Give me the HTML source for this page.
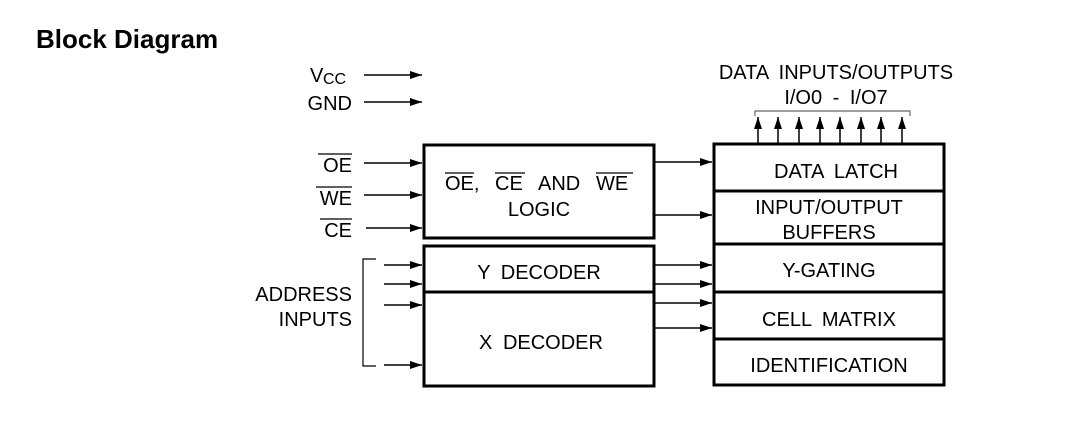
<!DOCTYPE html>
<html><head><style>
body{margin:0;background:#fff;}
svg text{font-family:"Liberation Sans",Arial,sans-serif;fill:#000;word-spacing:5px;}
</style></head><body>
<svg width="1086" height="426" viewBox="0 0 1086 426" xmlns="http://www.w3.org/2000/svg">
<defs><marker id="a" viewBox="0 0 12 8" refX="12" refY="4" markerWidth="12" markerHeight="8" markerUnits="userSpaceOnUse" orient="auto"><path d="M0,0L12,4L0,8z" fill="#000"/></marker></defs>
<text x="36" y="48" font-size="26" font-weight="bold" style="word-spacing:0">Block Diagram</text>
<text x="310" y="82" font-size="20">V</text><text x="323" y="84" font-size="16" style="letter-spacing:0">CC</text>
<g font-size="20" text-anchor="end">
<text x="352" y="110">GND</text>
<text x="352" y="172">OE</text>
<text x="352" y="205">WE</text>
<text x="352" y="237">CE</text>
<text x="352" y="301">ADDRESS</text>
<text x="352" y="326">INPUTS</text>
</g>
<g stroke="#000" stroke-width="1.3">
<line x1="318" y1="154" x2="352" y2="154"/>
<line x1="316" y1="187" x2="352" y2="187"/>
<line x1="320" y1="219" x2="352" y2="219"/>
</g>
<g stroke="#000" stroke-width="1.5" fill="none" marker-end="url(#a)">
<line x1="364" y1="75" x2="422" y2="75"/>
<line x1="364" y1="102" x2="422" y2="102"/>
<line x1="364" y1="163" x2="422" y2="163"/>
<line x1="364" y1="195" x2="422" y2="195"/>
<line x1="366" y1="228" x2="422" y2="228"/>
<line x1="384" y1="265" x2="422" y2="265"/>
<line x1="384" y1="284" x2="422" y2="284"/>
<line x1="384" y1="305" x2="422" y2="305"/>
<line x1="384" y1="365" x2="422" y2="365"/>
<line x1="654" y1="162" x2="712" y2="162"/>
<line x1="654" y1="215" x2="712" y2="215"/>
<line x1="654" y1="265" x2="712" y2="265"/>
<line x1="654" y1="284" x2="712" y2="284"/>
<line x1="654" y1="303" x2="712" y2="303"/>
<line x1="654" y1="328" x2="712" y2="328"/>
<line x1="758" y1="143" x2="758" y2="117"/>
<line x1="778" y1="143" x2="778" y2="117"/>
<line x1="799" y1="143" x2="799" y2="117"/>
<line x1="820" y1="143" x2="820" y2="117"/>
<line x1="840" y1="143" x2="840" y2="117"/>
<line x1="861" y1="143" x2="861" y2="117"/>
<line x1="881" y1="143" x2="881" y2="117"/>
<line x1="902" y1="143" x2="902" y2="117"/>
</g>
<path d="M376,259H363V366H376" stroke="#000" stroke-width="1.2" fill="none"/>
<path d="M755,116V111H910V116" stroke="#666" stroke-width="1.2" fill="none"/>
<g stroke="#000" stroke-width="3" fill="none">
<rect x="424" y="145" width="230" height="93"/>
<rect x="424" y="246" width="230" height="140"/>
<line x1="424" y1="292" x2="654" y2="292"/>
<rect x="714" y="144" width="230" height="241"/>
<line x1="714" y1="191" x2="944" y2="191"/>
<line x1="714" y1="244" x2="944" y2="244"/>
<line x1="714" y1="292" x2="944" y2="292"/>
<line x1="714" y1="339" x2="944" y2="339"/>
</g>
<g font-size="20">
<text x="445" y="190">OE,</text>
<text x="495" y="190">CE</text>
<text x="538" y="190">AND</text>
<text x="596" y="190">WE</text>
</g>
<g stroke="#000" stroke-width="1.3">
<line x1="445" y1="173" x2="474" y2="173"/>
<line x1="495" y1="173" x2="525" y2="173"/>
<line x1="596" y1="173" x2="633" y2="173"/>
</g>
<g font-size="20" text-anchor="middle">
<text x="539" y="216">LOGIC</text>
<text x="539" y="279">Y DECODER</text>
<text x="541" y="349">X DECODER</text>
<text x="836" y="178">DATA LATCH</text>
<text x="829" y="214">INPUT/OUTPUT</text>
<text x="829" y="239">BUFFERS</text>
<text x="829" y="277">Y-GATING</text>
<text x="829" y="326">CELL MATRIX</text>
<text x="829" y="372">IDENTIFICATION</text>
<text x="836" y="79">DATA INPUTS/OUTPUTS</text>
<text x="836" y="104">I/O0 - I/O7</text>
</g>
</svg>
</body></html>
